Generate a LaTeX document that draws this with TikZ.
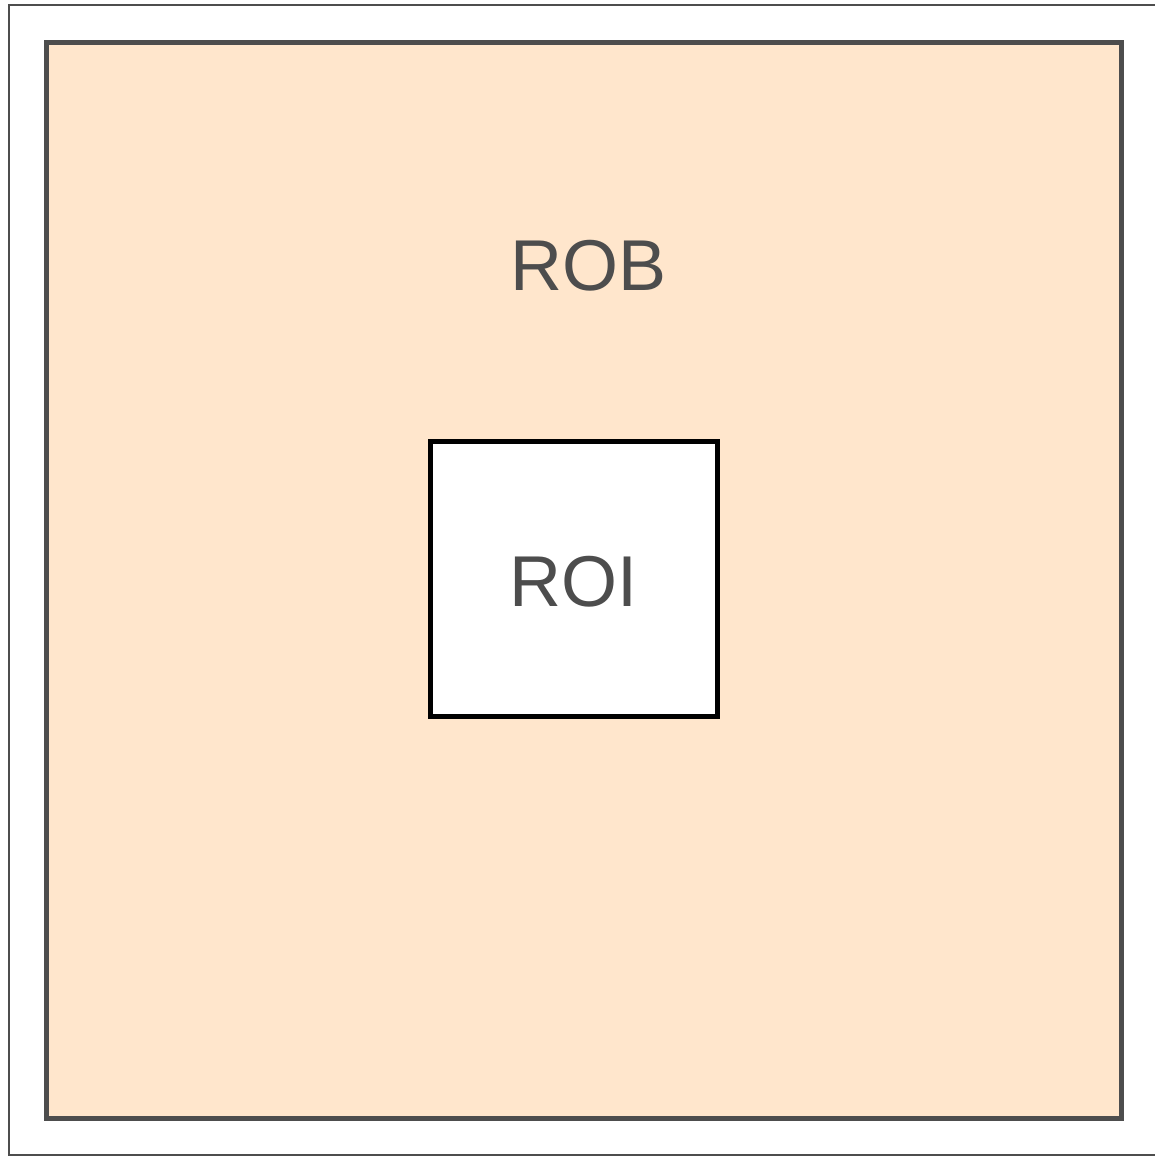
\documentclass[tikz,border=0pt]{standalone}
\usepackage{fontspec}
\setmainfont{Liberation Sans}
\definecolor{robfill}{HTML}{FFE6CC}
\definecolor{darkline}{HTML}{4D4D4D}
\definecolor{txtgray}{HTML}{4D4D4D}
\begin{document}
\begin{tikzpicture}[x=1pt,y=-1pt,
  robbox/.style={draw=darkline,fill=robfill,line width=5pt},
  roibox/.style={draw=black,fill=white,line width=5pt},
  lbl/.style={text=txtgray,font=\fontsize{72}{80}\selectfont,inner sep=0pt}]
\useasboundingbox (0,0) rectangle (1155,1156);
\clip (0,0) rectangle (1155,1156);
\draw[draw=darkline,line width=2pt] (8.5,5) rectangle (1160,1155);
\draw[robbox] (46,43) rectangle (1121,1118);
\draw[roibox] (430,441) rectangle (717.5,716);
\node[lbl,anchor=base] (rob) at (589,290) {ROB};
\node[lbl,anchor=base] (roi) at (573.5,606) {ROI};
\end{tikzpicture}
\end{document}
